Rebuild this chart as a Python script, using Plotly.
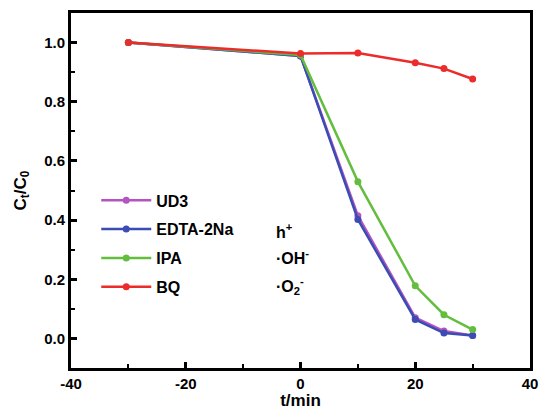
import plotly.graph_objects as go

t = [-30, 0, 10, 20, 25, 30]
ud3 = [1.0, 0.955, 0.415, 0.070, 0.025, 0.010]
edta = [1.0, 0.955, 0.402, 0.064, 0.018, 0.010]
ipa = [1.0, 0.958, 0.530, 0.178, 0.080, 0.030]
bq = [1.0, 0.963, 0.965, 0.932, 0.912, 0.877]

names = ["UD3", "EDTA-2Na", "IPA", "BQ"]
series = [ud3, edta, ipa, bq]
colors = ["#B454C0", "#3B4DB4", "#62BE3C", "#EC2B2B"]
species = ["h<sup>+</sup>", "·OH<sup>-</sup>", "·O<sub>2</sub><sup>-</sup>"]
species_y = [0.363, 0.274, 0.176]

xticks = [-40, -20, 0, 20, 40]
xticklabels = ["-40", "-20", "0", "20", "40"]
yticks = [0.0, 0.2, 0.4, 0.6, 0.8, 1.0]

FONT = "Arial, Liberation Sans, sans-serif"

fig = go.Figure()
for n, s, c in zip(names, series, colors):
    fig.add_trace(go.Scatter(
        x=t, y=s, name=n, mode="lines+markers", legendgroup=n,
        line=dict(color=c, width=2.5),
        marker=dict(symbol="circle", size=7, color=c),
    ))

for sp, yy in zip(species, species_y):
    fig.add_annotation(
        x=-4.6, y=yy, xref="x", yref="y",
        text=sp, showarrow=False, xanchor="left", yanchor="middle",
        font=dict(family=FONT, size=16, color="black", weight="bold"),
    )

axis_common = dict(
    showgrid=False, zeroline=False, showline=True, linecolor="black",
    linewidth=3, mirror=True, ticks="inside", ticklen=6, tickwidth=2.5,
    tickcolor="black", automargin=False,
    tickfont=dict(family=FONT, size=15, color="black", weight="bold"),
)

fig.update_xaxes(
    range=[-40, 40], tickvals=xticks, ticktext=xticklabels,
    minor=dict(tickvals=[-30, -10, 10, 30], ticks="inside", ticklen=4,
               tickwidth=2, tickcolor="black"),
    title=dict(text="t/min", standoff=0,
               font=dict(family=FONT, size=17, color="black", weight="bold")),
    **axis_common,
)
fig.update_yaxes(
    range=[-0.1, 1.1], tickvals=yticks, tickformat=".1f",
    minor=dict(tickvals=[0.1, 0.3, 0.5, 0.7, 0.9], ticks="inside", ticklen=4,
               tickwidth=2, tickcolor="black"),
    title=dict(text="C<sub>t</sub>/C<sub>0</sub>", standoff=14,
               font=dict(family=FONT, size=17, color="black", weight="bold")),
    **axis_common,
)

fig.update_layout(
    width=542, height=410,
    margin=dict(l=71, r=12, t=13, b=42),
    paper_bgcolor="white", plot_bgcolor="white",
    showlegend=True,
    legend=dict(
        x=0.055, y=0.52, xanchor="left", yanchor="top",
        bgcolor="rgba(0,0,0,0)", itemwidth=50, tracegroupgap=5,
        font=dict(family=FONT, size=16, color="black", weight="bold"),
    ),
)

fig.write_html("out.html", config={"displayModeBar": False},
               post_script="document.body.style.margin='0';")
